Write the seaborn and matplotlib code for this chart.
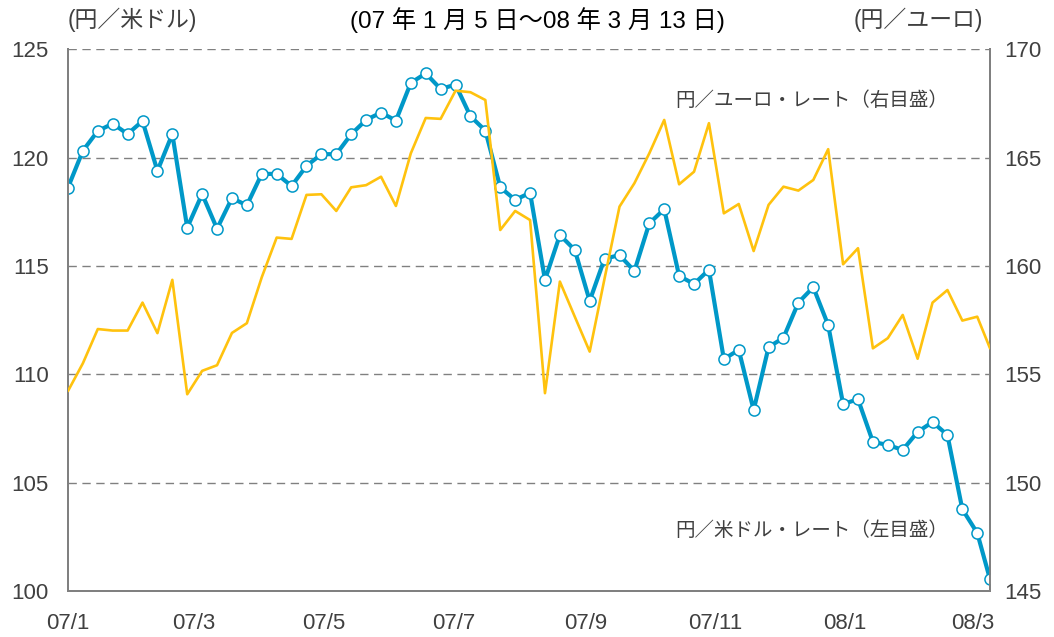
import matplotlib
matplotlib.use("Agg")
import matplotlib.pyplot as plt
import seaborn as sns
import pandas as pd
import numpy as np

# ---- data ----
week_dates = list(pd.date_range("2007-01-05", "2008-03-07", freq="7D")) + [pd.Timestamp("2008-03-13")]

usd_jpy = [118.62, 120.32, 121.23, 121.57, 121.09, 121.69, 119.39, 121.09, 116.77, 118.32,
           116.72, 118.13, 117.80, 119.25, 119.25, 118.69, 119.62, 120.16, 120.16, 121.08,
           121.74, 122.08, 121.71, 123.45, 123.89, 123.17, 123.37, 121.91, 121.25, 118.63,
           118.05, 118.38, 114.36, 116.43, 115.74, 113.39, 115.34, 115.50, 114.77, 116.97,
           117.62, 114.54, 114.17, 114.83, 110.70, 111.13, 108.35, 111.25, 111.69, 113.31,
           114.02, 112.27, 108.63, 108.85, 106.88, 106.74, 106.51, 107.34, 107.80, 107.20,
           103.77, 102.68, 100.54]

eur_jpy = [154.23, 155.51, 157.09, 157.02, 157.02, 158.31, 156.90, 159.36, 154.08, 155.16,
           155.42, 156.91, 157.36, 159.48, 161.31, 161.25, 163.28, 163.31, 162.54, 163.63,
           163.73, 164.12, 162.77, 165.20, 166.83, 166.79, 168.09, 168.02, 167.66, 161.66,
           162.54, 162.12, 154.13, 159.28, 157.66, 156.05, 159.43, 162.74, 163.82, 165.20,
           166.74, 163.77, 164.35, 166.59, 162.43, 162.86, 160.69, 162.82, 163.66, 163.48,
           163.97, 165.39, 160.08, 160.82, 156.20, 156.67, 157.74, 155.72, 158.31, 158.89,
           157.48, 157.66, 156.20]

x_tick_dates = ["2007-01-05", "2007-03-05", "2007-05-05", "2007-07-05", "2007-09-05",
                "2007-11-05", "2008-01-05", "2008-03-05"]
x_tick_labels = ["07/1", "07/3", "07/5", "07/7", "07/9", "07/11", "08/1", "08/3"]
left_ticks = [100, 105, 110, 115, 120, 125]
right_ticks = [145, 150, 155, 160, 165, 170]

df = pd.DataFrame({"date": week_dates, "usd": usd_jpy, "eur": eur_jpy})

# ---- style ----
sns.set_style("white")
plt.rcParams["font.family"] = ["Liberation Sans", "Noto Sans CJK JP", "DejaVu Sans"]
CJK = ["Noto Sans CJK JP", "DejaVu Sans"]
MIX = ["Liberation Sans", "Noto Sans CJK JP", "DejaVu Sans"]

BLUE = "#0098C8"
YELLOW = "#FFC20E"
GRAY = "#808080"
TXT = "#404040"

fig = plt.figure(figsize=(10.54, 6.37), dpi=100)
ax = fig.add_axes([0.0645, 0.0722, 0.8748, 0.8504])
ax2 = ax.twinx()

sns.lineplot(data=df, x="date", y="usd", ax=ax, color=BLUE, linewidth=3.0,
             marker="o", markersize=8, markerfacecolor="white",
             markeredgecolor=BLUE, markeredgewidth=1.1, zorder=3)
sns.lineplot(data=df, x="date", y="eur", ax=ax2, color=YELLOW, linewidth=1.9, zorder=3)

ax.set_xlim(pd.Timestamp("2007-01-05"), pd.Timestamp("2008-03-13"))
ax.set_ylim(100, 125)
ax2.set_ylim(145, 170)
ax.set_yticks(left_ticks)
ax2.set_yticks(right_ticks)
ax.set_xticks([pd.Timestamp(d) for d in x_tick_dates])
ax.set_xticklabels(x_tick_labels)

for a in (ax, ax2):
    a.set_xlabel("")
    a.set_ylabel("")
    a.spines["top"].set_visible(False)
    for s in ("left", "right", "bottom"):
        a.spines[s].set_color(GRAY)
        a.spines[s].set_linewidth(1.4)

ax.yaxis.grid(True, linestyle=(0, (6, 4)), color=GRAY, linewidth=1.0)
ax.set_axisbelow(True)
ax.xaxis.grid(False)

ax.tick_params(axis="y", length=0, pad=14, labelsize=16, labelcolor=TXT)
ax2.tick_params(axis="y", length=0, pad=10, labelsize=16, labelcolor=TXT)
ax.tick_params(axis="x", direction="in", length=6, width=1, color=GRAY,
               pad=16, labelsize=16, labelcolor=TXT)

# ---- texts ----
fig.text(68 / 1054, 1 - 20 / 637, "(円／米ドル)", family=MIX, fontsize=16.5, color=TXT,
         ha="left", va="center")
fig.text(983 / 1054, 1 - 20 / 637, "(円／ユーロ)", family=MIX, fontsize=16.5, color=TXT,
         ha="right", va="center")
fig.text(537 / 1054, 1 - 20 / 637, "(07 年 1 月 5 日～08 年 3 月 13 日)", family=MIX,
         fontsize=17.5, color="black", ha="center", va="center")

fig.text(948 / 1054, 1 - 100 / 637, "円／ユーロ・レート（右目盛）", family=CJK,
         fontsize=14, color=TXT, ha="right", va="center")
fig.text(948 / 1054, 1 - 531 / 637, "円／米ドル・レート（左目盛）", family=CJK,
         fontsize=14, color=TXT, ha="right", va="center")

fig.savefig("out.png", dpi=100)
